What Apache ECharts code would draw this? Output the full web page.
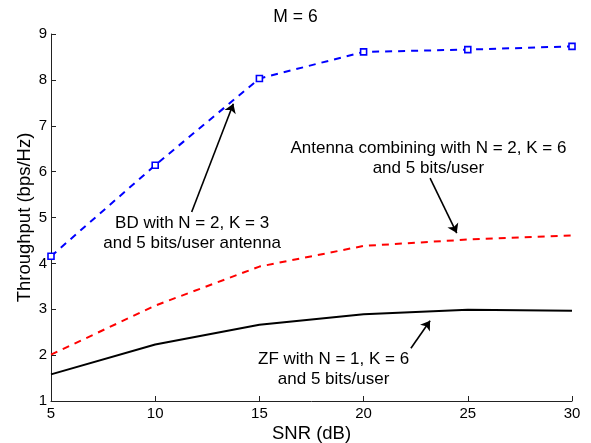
<!DOCTYPE html>
<html>
<head>
<meta charset="utf-8">
<script src="https://cdn.jsdelivr.net/npm/echarts@6/dist/echarts.min.js"></script>
<style>html,body{margin:0;padding:0;background:#fff}#c{width:591px;height:443px}</style>
</head>
<body>
<div id="c"></div>
<script>
const snr = [5, 10, 15, 20, 25, 30];
const bdValues = [4.155, 6.14, 8.03, 8.61, 8.66, 8.73];
const antennaValues = [2.01, 3.08, 3.93, 4.38, 4.52, 4.61];
const zfValues = [1.58, 2.23, 2.66, 2.89, 2.99, 2.97];
const xTicks = [5, 10, 15, 20, 25, 30];
const yTicks = [1, 2, 3, 4, 5, 6, 7, 8, 9];

const titleText = 'M = 6';
const xName = 'SNR (dB)';
const yName = 'Throughput (bps/Hz)';

// annotations: [text, centre x, centre y] in data units
const notes = [
  ['BD with N = 2, K = 3\nand 5 bits/user antenna', 11.77, 4.65],
  ['Antenna combining with N = 2, K = 6\nand 5 bits/user', 23.11, 6.30],
  ['ZF with N = 1, K = 6\nand 5 bits/user', 18.56, 1.70]
];
// arrows: [from, to] in data units
const arrows = [
  [[11.75, 5.12], [13.75, 7.48]],
  [[23.19, 5.86], [24.47, 4.66]],
  [[22.27, 2.15], [23.19, 2.75]]
];

const pair = (xs, ys) => xs.map((x, i) => [x, ys[i]]);
const FONT = 'Liberation Sans, Arial, Helvetica, sans-serif';

const chart = echarts.init(document.getElementById('c'), null, {renderer: 'canvas'});
chart.setOption({
  animation: false,
  backgroundColor: '#fff',
  title: {
    text: titleText, left: 'center', top: 3,
    textStyle: {fontFamily: FONT, fontSize: 17.5, fontWeight: 'normal', color: '#000'}
  },
  grid: {left: 51, right: 19, top: 34, bottom: 42, containLabel: false, outerBoundsMode: 'none'},
  xAxis: {
    type: 'value', min: xTicks[0], max: xTicks[xTicks.length - 1], interval: 5,
    name: xName, nameLocation: 'middle', nameGap: 23, nameMoveOverlap: false,
    nameTextStyle: {fontFamily: FONT, fontSize: 18.5, color: '#000'},
    axisLine: {lineStyle: {color: '#222', width: 1}},
    axisTick: {inside: true, length: 5, lineStyle: {color: '#222'}},
    axisLabel: {fontFamily: FONT, fontSize: 15, color: '#000', margin: 5},
    splitLine: {show: false}
  },
  yAxis: {
    type: 'value', min: yTicks[0], max: yTicks[yTicks.length - 1], interval: 1,
    name: yName, nameLocation: 'middle', nameGap: 17, nameRotate: 90, nameMoveOverlap: false,
    nameTextStyle: {fontFamily: FONT, fontSize: 18.5, color: '#000'},
    axisLine: {show: true, lineStyle: {color: '#222', width: 1}},
    axisTick: {show: true, inside: true, length: 5, lineStyle: {color: '#222'}},
    axisLabel: {fontFamily: FONT, fontSize: 15, color: '#000', margin: 4},
    splitLine: {show: false}
  },
  series: [
    {
      name: 'BD', type: 'line', data: pair(snr, bdValues),
      symbol: 'rect', symbolSize: 6, showAllSymbol: true,
      lineStyle: {color: '#0000ff', width: 2, type: [7, 6]},
      itemStyle: {color: '#fff', borderColor: '#0000ff', borderWidth: 1.6},
      z: 3
    },
    {
      name: 'Antenna', type: 'line', data: pair(snr, antennaValues),
      symbol: 'none',
      lineStyle: {color: '#ff0000', width: 2, type: [7, 6]}
    },
    {
      name: 'ZF', type: 'line', data: pair(snr, zfValues),
      symbol: 'none',
      lineStyle: {color: '#000', width: 2, type: 'solid'}
    },
    {
      name: 'notes', type: 'line', data: [], silent: true,
      markLine: {
        silent: true, animation: false,
        symbol: ['none', 'arrow'], symbolSize: 9,
        lineStyle: {color: '#000', width: 1.6, type: 'solid'},
        label: {show: false},
        data: arrows.map(a => [{coord: a[0]}, {coord: a[1]}])
      },
      markPoint: {
        silent: true, animation: false,
        symbol: 'circle', symbolSize: 0,
        label: {
          show: true, position: 'inside', align: 'center', verticalAlign: 'middle',
          fontFamily: FONT, fontSize: 17, lineHeight: 20, color: '#000',
          formatter: p => p.name
        },
        data: notes.map(n => ({name: n[0], coord: [n[1], n[2]]}))
      }
    }
  ]
});
</script>
</body>
</html>
